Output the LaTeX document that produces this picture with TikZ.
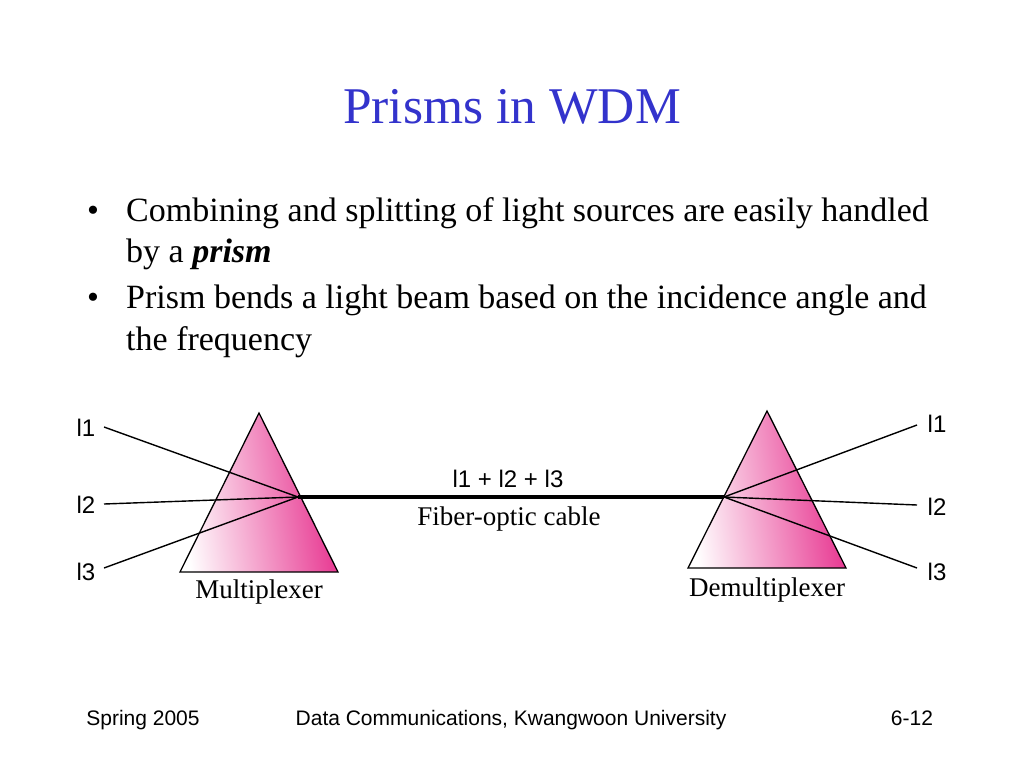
\documentclass[tikz,border=0pt]{standalone}
\usepackage{fontspec}
\setmainfont{Liberation Serif}
\setsansfont{Liberation Sans}
\newfontfamily\footfont{Liberation Sans}
\definecolor{titleblue}{RGB}{51,51,204}
\definecolor{prismpink}{RGB}{230,42,138}
\begin{document}
\begin{tikzpicture}[x=1pt,y=-1pt,
  ray/.style={line width=1.4pt,black},
  fiber/.style={line width=3.6pt,black},
  prismshape/.style={draw=black,line width=1.3pt,left color=white,middle color=prismpink!68!white,right color=prismpink,shading angle=98},
  lam/.style={font=\sffamily\fontsize{24}{24}\selectfont,inner sep=0pt},
  captext/.style={font=\fontsize{27}{27}\selectfont,inner sep=0pt},
  bul/.style={font=\fontsize{34}{34}\selectfont,anchor=base west,inner sep=0pt},
  foot/.style={font=\footfont\fontsize{21}{21}\selectfont,anchor=base,inner sep=0pt}]
\useasboundingbox (0,0) rectangle (1024,768);
\fill[white] (0,0) rectangle (1024,768);
% title
\node[font=\fontsize{51.5}{51.5}\selectfont,text=titleblue,inner sep=0pt] (title) at (512,107) {Prisms in WDM};
% bullets
\node[bul] (b1) at (87,221) {\textbullet};
\node[bul] (t1) at (126,221) {Combining and splitting of light sources are easily handled};
\node[bul] (t2) at (126,262) {by a \textbf{\textit{prism}}};
\node[bul] (b2) at (87,308) {\textbullet};
\node[bul] (t3) at (126,308) {Prism bends a light beam based on the incidence angle and};
\node[bul] (t4) at (126,350) {the frequency};
% prisms
\path[prismshape] (259,413) -- (338,572) -- (180,572) -- cycle;
\path[prismshape] (767,411) -- (846,568) -- (688,568) -- cycle;
% points
\coordinate (mx) at (298,497);
\coordinate (dx) at (724,497);
\coordinate (la1) at (104,427);
\coordinate (la2) at (104,504);
\coordinate (la3) at (104,568);
\coordinate (ra1) at (917,425);
\coordinate (ra2) at (917,505);
\coordinate (ra3) at (917,568);
\draw[ray] (la1) -- (mx);
\draw[ray] (la2) -- (mx);
\draw[ray] (la3) -- (mx);
\draw[ray] (dx) -- (ra1);
\draw[ray] (dx) -- (ra2);
\draw[ray] (dx) -- (ra3);
\draw[fiber] (mx) -- (dx);
% labels
\node[lam] (l1) at (86,428) {l1};
\node[lam] (l2) at (86,505) {l2};
\node[lam] (l3) at (86,572) {l3};
\node[lam] (r1) at (937,424) {l1};
\node[lam] (r2) at (937,507) {l2};
\node[lam] (r3) at (937,572) {l3};
\node[lam] (sum) at (508,479) {l1 + l2 + l3};
\node[captext] (fc) at (509,519) {Fiber-optic cable};
\node[captext] (mux) at (259,592) {Multiplexer};
\node[captext] (dmx) at (767,590) {Demultiplexer};
% footer
\node[foot] (f1) at (143,725) {Spring 2005};
\node[foot] (f2) at (511,725) {Data Communications, Kwangwoon University};
\node[foot] (f3) at (912,725) {6-12};
\end{tikzpicture}
\end{document}
